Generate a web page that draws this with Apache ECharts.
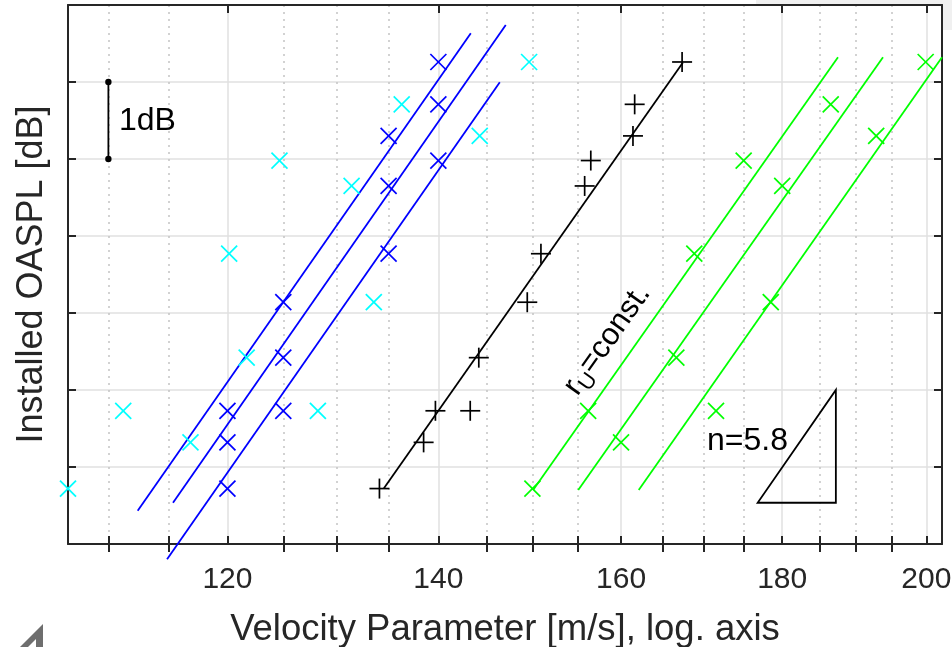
<!DOCTYPE html>
<html><head><meta charset="utf-8">
<script src="https://cdn.jsdelivr.net/npm/echarts@6/dist/echarts.min.js"></script>
<style>html,body{margin:0;padding:0;background:#fff}#c{width:952px;height:647px}</style>
</head><body><div id="c"></div>
<script>
// ---- axis ticks / ranges ----
const xMajorTicks = [120, 140, 160, 180, 200];
const xMinorTicks = [110, 115, 125, 130, 135, 145, 150, 155, 165, 170, 175, 185, 190, 195];
const xRange = [106.8, 202.3];
const yRange = [0, 7];

// ---- measured points: velocity [m/s] and OASPL [dB, relative] ----
const cyanV  = [106.8, 111.2, 116.8, 120.15, 121.7, 124.65, 128.2, 131.4, 133.55, 136.3, 144.3, 149.6];
const cyanDb = [0.72, 1.73, 1.32, 3.77, 2.42, 4.98, 1.73, 4.65, 3.14, 5.71, 5.30, 6.26];
const blueV  = [140, 140, 135, 140, 135, 135, 125, 125, 125, 120, 120, 120];
const blueDb = [6.26, 5.71, 5.30, 4.98, 4.65, 3.77, 3.14, 2.42, 1.73, 1.73, 1.32, 0.72];
const blackV  = [134.1, 138.5, 139.7, 143.3, 144.2, 149.4, 150.9, 155.8, 156.5, 161.4, 161.6, 167.3];
const blackDb = [0.72, 1.32, 1.73, 1.73, 2.42, 3.14, 3.77, 4.65, 4.98, 5.30, 5.71, 6.26];
const greenV  = [149.96, 156.2, 160.0, 166.6, 168.8, 171.5, 175.0, 178.5, 180.0, 186.5, 192.8, 199.9];
const greenDb = [0.72, 1.73, 1.32, 2.42, 3.77, 1.73, 4.98, 3.14, 4.65, 5.71, 5.30, 6.26];

// ---- fitted lines (end points) ----
const blueFitV  = [[112.38, 143.36], [115.32, 147.07], [114.82, 146.43]];
const blueFitDb = [[0.432, 6.632], [0.536, 6.740], [-0.199, 5.996]];
const blackFitV  = [134.54, 167.38];
const blackFitDb = [0.723, 6.251];
const greenFitV  = [[150.04, 187.49], [155.07, 193.76], [162.08, 202.3]];
const greenFitDb = [[0.701, 6.321], [0.701, 6.321], [0.701, 6.321]];

// ---- annotations ----
const scaleBarV = 110;
const scaleBarDb = [5, 6];
const triangleV = [176.8, 187.2];
const triangleDb = [0.536, 2.0];
const label1dB = {v: 110.85, db: 5.49, text: '1dB'};
const labelN = {v: 175.5, db: 1.34, text: 'n=5.8'};
const labelR = {v: 158.4, db: 2.65};

const L = Math.log;
const FONT = '"Liberation Sans", Arial, Helvetica, sans-serif';
const TXT = '#262626';

function pts(vs, dbs) { return vs.map((v, i) => [L(v), dbs[i]]); }

function markerSeries(name, vs, dbs, color, kind) {
  return {
    name, type: 'custom', clip: false, z: 5,
    data: pts(vs, dbs),
    renderItem: function (params, api) {
      const p = api.coord([api.value(0), api.value(1)]);
      const st = {stroke: color, lineWidth: 1.7};
      let ch;
      if (kind === 'x') {
        const h = 8;
        ch = [
          {type: 'line', shape: {x1: p[0] - h, y1: p[1] - h, x2: p[0] + h, y2: p[1] + h}, style: st},
          {type: 'line', shape: {x1: p[0] - h, y1: p[1] + h, x2: p[0] + h, y2: p[1] - h}, style: st}
        ];
      } else {
        const h = 10;
        ch = [
          {type: 'line', shape: {x1: p[0] - h, y1: p[1], x2: p[0] + h, y2: p[1]}, style: st},
          {type: 'line', shape: {x1: p[0], y1: p[1] - h, x2: p[0], y2: p[1] + h}, style: st}
        ];
      }
      return {type: 'group', children: ch};
    }
  };
}

function lineSeries(name, v2, db2, color) {
  return {
    name, type: 'line', clip: false, showSymbol: false, symbol: 'none', z: 3,
    data: pts(v2, db2),
    lineStyle: {color, width: 1.8},
    animation: false
  };
}

const series = [];
blueFitV.forEach((v, i) => series.push(lineSeries('blueFit' + i, v, blueFitDb[i], '#0000ff')));
series.push(lineSeries('blackFit', blackFitV, blackFitDb, '#000000'));
greenFitV.forEach((v, i) => series.push(lineSeries('greenFit' + i, v, greenFitDb[i], '#00ff00')));
series.push(markerSeries('cyan', cyanV, cyanDb, '#00ffff', 'x'));
series.push(markerSeries('blue', blueV, blueDb, '#0000ff', 'x'));
series.push(markerSeries('black', blackV, blackDb, '#000000', '+'));
series.push(markerSeries('green', greenV, greenDb, '#00ff00', 'x'));

series.push({
  name: 'annotations', type: 'custom', clip: false, z: 6,
  data: [[0, 0]],
  renderItem: function (params, api) {
    const c = (v, db) => api.coord([L(v), db]);
    const b0 = c(scaleBarV, scaleBarDb[0]), b1 = c(scaleBarV, scaleBarDb[1]);
    const t0 = c(triangleV[0], triangleDb[0]), t1 = c(triangleV[1], triangleDb[0]), t2 = c(triangleV[1], triangleDb[1]);
    const p1 = c(label1dB.v, label1dB.db), pn = c(labelN.v, labelN.db), pr = c(labelR.v, labelR.db);
    return {type: 'group', children: [
      {type: 'line', shape: {x1: b0[0], y1: b0[1], x2: b1[0], y2: b1[1]}, style: {stroke: '#000', lineWidth: 1.8}},
      {type: 'circle', shape: {cx: b0[0], cy: b0[1], r: 3.2}, style: {fill: '#000'}},
      {type: 'circle', shape: {cx: b1[0], cy: b1[1], r: 3.2}, style: {fill: '#000'}},
      {type: 'polygon', shape: {points: [t0, t1, t2]}, style: {fill: 'none', stroke: '#000', lineWidth: 1.8}},
      {type: 'text', x: p1[0], y: p1[1], style: {text: label1dB.text, fill: '#000', font: '32px ' + FONT, align: 'left', verticalAlign: 'middle'}},
      {type: 'text', x: pn[0], y: pn[1], style: {text: labelN.text, fill: '#000', font: '32px ' + FONT, align: 'center', verticalAlign: 'middle'}},
      {type: 'text', x: pr[0], y: pr[1], rotation: 0.955, style: {
        text: '{a|r}{b|U}{a|=const.}', fill: '#000', align: 'center', verticalAlign: 'middle',
        rich: {
          a: {fontSize: 31, fontFamily: FONT, lineHeight: 40, verticalAlign: 'middle', fill: '#000'},
          b: {fontSize: 22, fontFamily: FONT, lineHeight: 40, verticalAlign: 'bottom', fill: '#000'}
        }
      }}
    ]};
  }
});

const xMin = L(xRange[0]), xMax = L(xRange[1]);
const axisLineStyle = {color: TXT, width: 2};

const option = {
  animation: false,
  backgroundColor: '#fff',
  textStyle: {fontFamily: FONT},
  graphic: [
    {type: 'rect', shape: {x: 756, y: 0, width: 196, height: 4}, style: {fill: '#f0f0f0'}, z: -10},
    {type: 'rect', shape: {x: 943, y: 0, width: 9, height: 30}, style: {fill: '#f0f0f0'}, z: -10},
    {type: 'polygon', shape: {points: [[20, 647], [43, 624], [43, 647], [36, 647], [36, 639], [28, 647]]}, style: {fill: '#6e6e6e'}}
  ],
  grid: {left: 68, right: 10, top: 5, bottom: 103, containLabel: false, outerBoundsMode: 'none', show: true, backgroundColor: '#fff', borderWidth: 0},
  xAxis: [
    {
      type: 'value', position: 'bottom', min: xMin, max: xMax,
      axisLine: {show: true, onZero: false, lineStyle: axisLineStyle},
      axisTick: {show: true, inside: true, length: 8, customValues: xMajorTicks.map(L), lineStyle: axisLineStyle},
      axisLabel: {show: true, customValues: xMajorTicks.map(L), formatter: v => String(Math.round(Math.exp(v))), fontSize: 30, color: TXT, margin: 21, fontFamily: FONT},
      splitLine: {show: true, lineStyle: {color: '#e0e0e0', width: 1.5}},
      name: 'Velocity Parameter [m/s], log. axis', nameLocation: 'middle', nameGap: 67,
      nameTextStyle: {fontSize: 36.5, color: TXT, fontFamily: FONT}
    },
    {
      type: 'value', position: 'bottom', min: xMin, max: xMax,
      axisLine: {show: false},
      axisTick: {show: true, inside: true, length: 8, customValues: xMinorTicks.map(L), lineStyle: axisLineStyle},
      axisLabel: {show: false},
      splitLine: {show: true, lineStyle: {color: '#c4c4c4', width: 1.5, type: [2, 5]}}
    },
    {
      type: 'value', position: 'top', min: xMin, max: xMax,
      axisLine: {show: true, onZero: false, lineStyle: axisLineStyle},
      axisTick: {show: true, inside: true, length: 8, customValues: xMajorTicks.map(L), lineStyle: axisLineStyle},
      axisLabel: {show: false}, splitLine: {show: false}
    },
    {
      type: 'value', position: 'top', min: xMin, max: xMax,
      axisLine: {show: false},
      axisTick: {show: true, inside: true, length: 8, customValues: xMinorTicks.map(L), lineStyle: axisLineStyle},
      axisLabel: {show: false}, splitLine: {show: false}
    }
  ],
  yAxis: [
    {
      type: 'value', position: 'left', min: yRange[0], max: yRange[1], interval: 1,
      axisLine: {show: true, onZero: false, lineStyle: axisLineStyle},
      axisTick: {show: true, inside: true, length: 8, lineStyle: axisLineStyle},
      axisLabel: {show: false},
      splitLine: {show: true, lineStyle: {color: '#e0e0e0', width: 1.5}},
      name: 'Installed OASPL [dB]', nameLocation: 'middle', nameGap: 18, nameRotate: 90,
      nameTextStyle: {fontSize: 36, color: TXT, fontFamily: FONT}
    },
    {
      type: 'value', position: 'right', min: yRange[0], max: yRange[1], interval: 1,
      axisLine: {show: true, onZero: false, lineStyle: axisLineStyle},
      axisTick: {show: true, inside: true, length: 8, lineStyle: axisLineStyle},
      axisLabel: {show: false}, splitLine: {show: false}
    }
  ],
  series: series
};

const chart = echarts.init(document.getElementById('c'), null, {renderer: 'canvas'});
chart.setOption(option);
</script>
</body></html>
